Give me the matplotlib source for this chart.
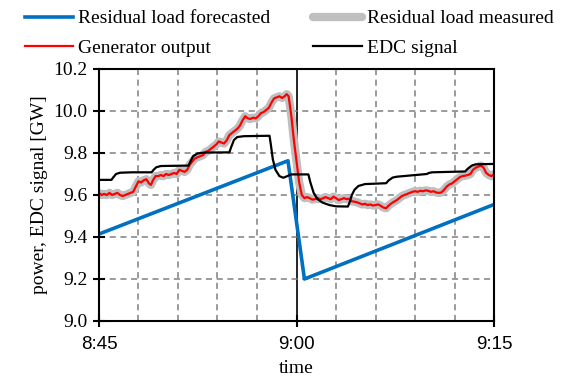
import matplotlib
matplotlib.use("Agg")
import matplotlib.pyplot as plt
from matplotlib.ticker import MultipleLocator

# minutes after 8:45
forecast_t = [0, 14.35, 15.6, 30]
forecast_v = [9.414, 9.763, 9.2, 9.555]

gen_t = [0.0, 0.2, 0.4, 0.6, 0.8, 1.0, 1.2, 1.4, 1.6, 1.8, 2.0, 2.2, 2.4, 2.6, 2.8,
         3.0, 3.2, 3.4, 3.6, 3.8, 3.95, 4.1, 4.3, 4.5, 4.7, 4.9, 5.1, 5.3, 5.5, 5.7,
         5.9, 6.1, 6.3, 6.5, 6.7, 6.9, 7.1, 7.3, 7.5, 7.7, 7.9, 8.1, 8.3, 8.5, 8.7,
         8.9, 9.1, 9.3, 9.5, 9.7, 9.9, 10.1, 10.3, 10.5, 10.7, 10.9, 11.1, 11.3, 11.5,
         11.7, 11.9, 12.1, 12.3, 12.5, 12.7, 12.9, 13.1, 13.3, 13.5, 13.7, 13.9, 14.1,
         14.25, 14.4, 14.6, 14.8, 15.0, 15.2, 15.4, 15.6, 15.8, 16.0, 16.2, 16.4, 16.6,
         16.8, 17.0, 17.2, 17.4, 17.6, 17.8, 18.0, 18.2, 18.4, 18.6, 18.8, 19.0, 19.2,
         19.4, 19.6, 19.8, 20.0, 20.2, 20.4, 20.6, 20.8, 21.0, 21.2, 21.4, 21.6, 21.8,
         22.0, 22.2, 22.4, 22.6, 22.8, 23.0, 23.2, 23.4, 23.6, 23.8, 24.0, 24.2, 24.4,
         24.6, 24.8, 25.0, 25.2, 25.4, 25.6, 25.8, 26.0, 26.2, 26.4, 26.6, 26.8, 27.0,
         27.2, 27.4, 27.6, 27.8, 28.0, 28.2, 28.4, 28.6, 28.8, 29.0, 29.2, 29.4, 29.6,
         29.8, 30.0]
gen_v = [9.61, 9.60, 9.605, 9.60, 9.61, 9.60, 9.605, 9.61, 9.60, 9.595, 9.60, 9.605,
         9.61, 9.615, 9.64, 9.665, 9.66, 9.67, 9.675, 9.655, 9.648, 9.67, 9.69, 9.69,
         9.695, 9.69, 9.70, 9.695, 9.70, 9.705, 9.70, 9.72, 9.715, 9.71, 9.72, 9.745,
         9.76, 9.775, 9.78, 9.785, 9.79, 9.805, 9.81, 9.82, 9.83, 9.84, 9.855, 9.85,
         9.845, 9.86, 9.885, 9.895, 9.905, 9.915, 9.93, 9.955, 9.975, 9.965, 9.962,
         9.968, 9.965, 9.975, 9.99, 9.995, 10.005, 10.015, 10.04, 10.06, 10.065, 10.07,
         10.062, 10.07, 10.08, 10.07, 9.98, 9.86, 9.76, 9.66, 9.60, 9.585, 9.59, 9.585,
         9.578, 9.58, 9.585, 9.58, 9.584, 9.59, 9.585, 9.58, 9.592, 9.585, 9.576, 9.58,
         9.585, 9.58, 9.582, 9.57, 9.568, 9.565, 9.56, 9.555, 9.558, 9.552, 9.555, 9.55,
         9.552, 9.555, 9.548, 9.54, 9.537, 9.55, 9.56, 9.568, 9.575, 9.585, 9.595, 9.60,
         9.605, 9.61, 9.615, 9.618, 9.615, 9.62, 9.618, 9.622, 9.62, 9.615, 9.618, 9.612,
         9.61, 9.612, 9.625, 9.64, 9.65, 9.655, 9.665, 9.675, 9.685, 9.69, 9.692, 9.695,
         9.70, 9.72, 9.73, 9.735, 9.74, 9.73, 9.705, 9.695, 9.69, 9.70]
measured_t = gen_t
measured_v = gen_v

edc_t = [0, 0.95, 1.1, 1.3, 1.6, 2.5, 4.0, 4.15, 4.35, 4.7, 6.8, 6.95, 7.15, 7.5, 8.0,
         9.9, 10.05, 10.25, 10.5, 11.0, 12.95, 13.05, 13.2, 13.4, 13.7, 14.0, 14.3,
         14.6, 15.9, 16.05, 16.3, 16.6, 17.0, 17.5, 18.0, 18.9, 19.0, 19.2, 19.4, 19.7,
         20.2, 21.8, 22.0, 22.3, 22.6, 24.9, 25.05, 25.3, 27.8, 28.0, 28.3, 28.6, 30]
edc_v = [9.672, 9.672, 9.685, 9.700, 9.706, 9.708, 9.708, 9.72, 9.732, 9.738, 9.740,
         9.76, 9.785, 9.798, 9.802, 9.803, 9.83, 9.862, 9.876, 9.880, 9.882, 9.84,
         9.77, 9.72, 9.69, 9.682, 9.69, 9.698, 9.698, 9.66, 9.61, 9.58, 9.563, 9.552,
         9.546, 9.545, 9.56, 9.60, 9.625, 9.643, 9.652, 9.656, 9.67, 9.683, 9.687,
         9.700, 9.705, 9.708, 9.712, 9.725, 9.74, 9.746, 9.748]

xtick_pos = [0, 15, 30]
xtick_labels = ["8:45", "9:00", "9:15"]

serif = "Liberation Serif"
sans = "Liberation Sans"

fig = plt.figure(figsize=(5.82, 3.78), dpi=100)
ax = fig.add_axes([0.170, 0.1508, 0.679, 0.6667])

l1, = ax.plot(forecast_t, forecast_v, color="#0070C0", lw=2.6, label="Residual load forecasted")
l2, = ax.plot(measured_t, measured_v, color="#BFBFBF", lw=6, solid_capstyle="round",
              label="Residual load measured")
l3, = ax.plot(gen_t, gen_v, color="#FF0000", lw=1.6, label="Generator output")
l4, = ax.plot(edc_t, edc_v, color="black", lw=1.6, label="EDC signal")

ax.set_xlim(0, 30)
ax.set_ylim(9.0, 10.2)
ax.set_xticks(xtick_pos)
ax.set_xticklabels(xtick_labels, family=sans, fontsize=13.5)
ax.xaxis.set_minor_locator(MultipleLocator(3))
ax.yaxis.set_major_locator(MultipleLocator(0.2))
ax.set_yticklabels([f"{v:.1f}" for v in ax.get_yticks()], family=serif, fontsize=14)

ax.grid(True, which="major", axis="x", color="black", ls="-", lw=1.2)
ax.grid(True, which="minor", axis="x", color="#808080", ls=(0, (4, 3)), lw=1.1)
ax.grid(True, which="major", axis="y", color="#808080", ls=(0, (4, 3)), lw=1.1)
ax.tick_params(which="major", direction="inout", length=9, width=1.5, colors="black")
ax.tick_params(which="minor", length=0)
ax.tick_params(axis="x", pad=6)
for s in ax.spines.values():
    s.set_linewidth(1.5)

ax.set_xlabel("time", family=serif, fontsize=14, labelpad=5)
ax.set_ylabel("power, EDC signal [GW]", family=serif, fontsize=14, labelpad=4)

# column-wise fill: row 1 = forecasted / measured, row 2 = generator / EDC
fig.legend(handles=[l1, l3, l2, l4], ncol=2, loc="upper left",
           bbox_to_anchor=(0.026, 1.0), borderpad=0, frameon=False, handlelength=2.5,
           handletextpad=0.25, columnspacing=2.2, labelspacing=0.6,
           prop={"family": serif, "size": 14})

fig.savefig("out.png", dpi=100)
